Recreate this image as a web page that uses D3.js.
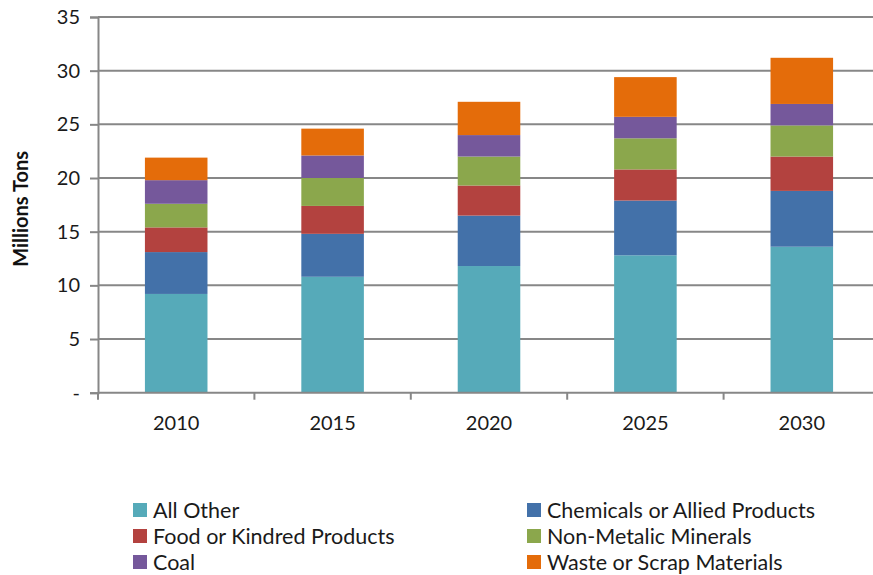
<!DOCTYPE html>
<html>
<head>
<meta charset="utf-8">
<script src="https://cdn.jsdelivr.net/npm/d3@7"></script>
<style>
  html, body { margin: 0; padding: 0; background: #fff; }
  svg { display: block; font-family: Lato, "Open Sans", sans-serif; }
</style>
</head>
<body>
<svg id="chart" width="873" height="575"></svg>
<script>
// Freight tonnage by commodity group, millions of tons
const years = ["2010", "2015", "2020", "2025", "2030"];
const seriesNames = [
  "All Other",
  "Chemicals or Allied Products",
  "Food or Kindred Products",
  "Non-Metalic Minerals",
  "Coal",
  "Waste or Scrap Materials"
];
const allOther   = [9.2, 10.8, 11.8, 12.8, 13.6];
const chemicals  = [3.9, 4.0, 4.7, 5.1, 5.2];
const food       = [2.3, 2.6, 2.8, 2.9, 3.2];
const nonMetalic = [2.2, 2.6, 2.7, 2.9, 2.9];
const coal       = [2.2, 2.1, 2.0, 2.0, 2.0];
const waste      = [2.1, 2.5, 3.1, 3.7, 4.3];
const yTicks = [0, 5, 10, 15, 20, 25, 30, 35];
const colors = ["#56aab9", "#4371a9", "#b3423f", "#8ba74c", "#75589b", "#e46c0a"];

const seriesValues = [allOther, chemicals, food, nonMetalic, coal, waste];
const rows = years.map((yr, i) => {
  const row = { year: yr };
  seriesNames.forEach((name, s) => { row[name] = seriesValues[s][i]; });
  return row;
});

const svg = d3.select("#chart");
const plotLeft = 98, plotRight = 880, plotTop = 17, plotBottom = 392.7;

const x = d3.scaleBand().domain(years).range([plotLeft, plotRight]).paddingInner(0.6).paddingOuter(0.3);
const y = d3.scaleLinear().domain([0, 35]).range([plotBottom, plotTop]);

// horizontal gridlines
svg.append("g")
  .selectAll("line")
  .data(yTicks.filter(d => d > 0))
  .join("line")
  .attr("x1", plotLeft).attr("x2", plotRight)
  .attr("y1", d => y(d)).attr("y2", d => y(d))
  .attr("stroke", "#878787").attr("stroke-width", 2);

// stacked bars
const stack = d3.stack().keys(seriesNames)(rows);
svg.append("g")
  .selectAll("g")
  .data(stack)
  .join("g")
  .attr("fill", (d, i) => colors[i])
  .selectAll("rect")
  .data(d => d)
  .join("rect")
  .attr("x", d => x(d.data.year))
  .attr("width", x.bandwidth())
  .attr("y", d => y(d[1]))
  .attr("height", d => y(d[0]) - y(d[1]));

// y axis
const yAxis = d3.axisLeft(y)
  .tickValues(yTicks)
  .tickSize(8)
  .tickPadding(10)
  .tickFormat(d => d === 0 ? "-" : d);
const gy = svg.append("g").attr("transform", `translate(${plotLeft},0)`).call(yAxis);
gy.select(".domain").attr("stroke", "#878787").attr("stroke-width", 2);
gy.selectAll(".tick line").attr("stroke", "#878787").attr("stroke-width", 2);
gy.selectAll(".tick text")
  .attr("font-size", 20).attr("fill", "#1a1a1a")
  .attr("font-family", "Lato, sans-serif");

// x axis: ticks sit on the category boundaries
const xBoundaries = d3.range(years.length + 1).map(i => plotLeft + i * x.step());
svg.append("line")
  .attr("x1", plotLeft).attr("x2", plotRight)
  .attr("y1", plotBottom).attr("y2", plotBottom)
  .attr("stroke", "#878787").attr("stroke-width", 2);
svg.append("g")
  .selectAll("line")
  .data(xBoundaries)
  .join("line")
  .attr("x1", d => d).attr("x2", d => d)
  .attr("y1", plotBottom).attr("y2", plotBottom + 7)
  .attr("stroke", "#878787").attr("stroke-width", 2);
svg.append("g")
  .selectAll("text")
  .data(years)
  .join("text")
  .attr("x", d => x(d) + x.bandwidth() / 2)
  .attr("y", 430)
  .attr("text-anchor", "middle")
  .attr("font-size", 20)
  .attr("fill", "#1a1a1a")
  .text(d => d);

// y axis title
svg.append("text")
  .attr("transform", `translate(28,${(plotTop + plotBottom) / 2 + 4}) rotate(-90)`)
  .attr("text-anchor", "middle")
  .attr("font-size", 20)
  .attr("font-weight", "bold")
  .attr("fill", "#111")
  .text("Millions Tons");

// legend, two columns
const legendCols = [133, 527];
const legendRows = [510, 536, 562];
const legend = svg.append("g")
  .selectAll("g")
  .data(seriesNames)
  .join("g")
  .attr("transform", (d, i) => `translate(${legendCols[i % 2]},${legendRows[Math.floor(i / 2)]})`);
legend.append("rect")
  .attr("x", 0).attr("y", -7)
  .attr("width", 14).attr("height", 14)
  .attr("fill", (d, i) => colors[i]);
legend.append("text")
  .attr("x", 20).attr("y", 7.5)
  .attr("font-size", 21.5)
  .attr("fill", "#1a1a1a")
  .text(d => d);
</script>
</body>
</html>
